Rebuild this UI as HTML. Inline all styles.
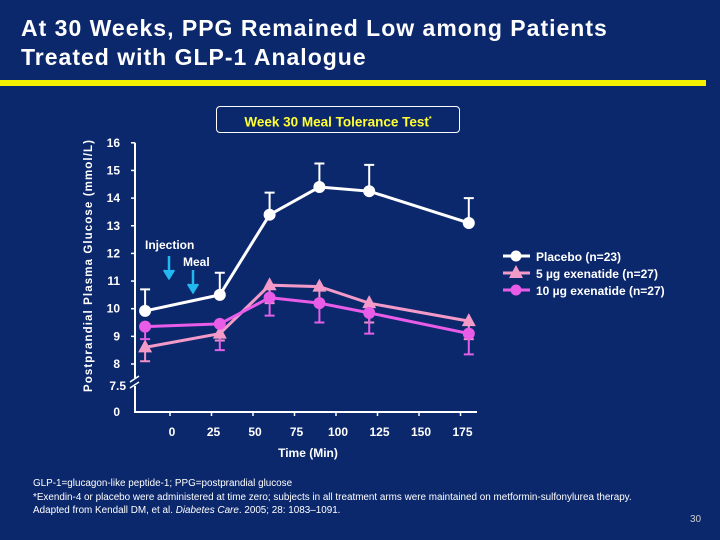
<!DOCTYPE html>
<html><head><meta charset="utf-8"><style>
body{margin:0;background:#0c286c;}
#s{position:relative;width:720px;height:540px;background:#0c286c;font-family:"Liberation Sans",sans-serif;color:#fff;overflow:hidden}
.t{position:absolute}
</style></head><body>
<div id="s">
<div class="t" style="left:21px;top:14px;font-size:23px;font-weight:bold;letter-spacing:1px;line-height:29px;">At 30 Weeks, PPG Remained Low among Patients<br>Treated with GLP-1 Analogue</div>
<div class="t" style="left:0;top:80px;width:706px;height:6px;background:#f5f000"></div>
<div class="t" style="left:216px;top:106px;width:242px;height:25px;border:1.5px solid #fff;border-radius:4px;color:#ffff33;font-size:13.5px;font-weight:bold;text-align:center;line-height:25px">Week 30 Meal Tolerance Test<sup style="font-size:7px">*</sup></div>
<svg class="t" style="left:0;top:0" width="720" height="540" id="c"></svg>
<div class="t" style="left:33px;top:477px;font-size:9.9px;line-height:13.5px">GLP-1=glucagon-like peptide-1; PPG=postprandial glucose<br>*Exendin-4 or placebo were administered at time zero; subjects in all treatment arms were maintained on metformin-sulfonylurea therapy.<br>Adapted from Kendall DM, et al. <i>Diabetes Care</i>. 2005; 28: 1083–1091.</div>
<div class="t" style="left:690px;top:514px;font-size:10px;color:#ccc">30</div>
</div>
<script>
const times=[-15,30,60,90,120,180];
const placebo=[9.92,10.5,13.4,14.4,14.25,13.1];
const placeboErrHi=[10.7,11.3,14.2,15.25,15.2,14.0];
const ex5=[8.6,9.1,10.85,10.8,10.2,9.55];
const ex5ErrLo=[8.1,8.85,10.2,10.2,9.5,8.9];
const ex10=[9.35,9.45,10.4,10.2,9.85,9.1];
const ex10ErrLo=[8.9,8.5,9.75,9.5,9.1,8.35];
const yTicks=[8,9,10,11,12,13,14,15,16];
const xTicks=[0,25,50,75,100,125,150,175];
const legendLabels=["Placebo (n=23)","5 µg exenatide (n=27)","10 µg exenatide (n=27)"];

const svg=document.getElementById('c');const NS="http://www.w3.org/2000/svg";
const X=t=>170+t*1.66;
const Y=v=>364-(v-8)*27.65;
function el(tag,a,name,parent){const e=document.createElementNS(NS,tag);for(const k in a)e.setAttribute(k,a[k]);


(parent||svg).appendChild(e);return e;}
function txt(x,y,s,name,a){const e=el('text',Object.assign({x:x,y:y,fill:'#fff','font-size':12,'font-family':'Liberation Sans, sans-serif','font-weight':'bold'},a||{}),name);e.textContent=s;return e;}
el('path',{d:`M135 ${Y(16)} V378 M135 386 V412 H477`,stroke:'#fff','stroke-width':2,fill:'none'},'axes');
el('path',{d:'M130 382 l9 -6 M130 388 l9 -6',stroke:'#fff','stroke-width':1.5},'axis-break');
yTicks.forEach(v=>{el('line',{x1:131,x2:135,y1:Y(v),y2:Y(v),stroke:'#fff','stroke-width':1.5},'y-tick');txt(120,Y(v)+4,String(v),'y-tick-label',{'text-anchor':'end'});});
txt(126,390,'7.5','y-tick-label',{'text-anchor':'end'});
txt(120,416,'0','y-tick-label',{'text-anchor':'end'});
xTicks.forEach(t=>{el('line',{x1:X(t),x2:X(t),y1:412,y2:416,stroke:'#fff','stroke-width':1.5},'x-tick');txt(X(t)+2,436,String(t),'x-tick-label',{'text-anchor':'middle'});});
txt(308,457,'Time (Min)','x-axis-title',{'text-anchor':'middle'});
txt(0,0,'Postprandial Plasma Glucose (mmol/L)','y-axis-title',{transform:'translate(92,392) rotate(-90)','font-size':11.5,textLength:252});
txt(145,249,'Injection','injection-label');
txt(183,266,'Meal','meal-label');
el('path',{d:'M169 256 V274 M164 270 l5 8 l5 -8',stroke:'#22b8f0','stroke-width':2.5,fill:'#22b8f0'},'injection-arrow');
el('path',{d:'M193 270 V288 M188 284 l5 8 l5 -8',stroke:'#22b8f0','stroke-width':2.5,fill:'#22b8f0'},'meal-arrow');
function errs(vals,ends,color,name){vals.forEach((v,i)=>{const x=X(times[i]);el('path',{d:`M${x} ${Y(v)} V${Y(ends[i])} M${x-5} ${Y(ends[i])} H${x+5}`,stroke:color,'stroke-width':2},name);});}
function series(vals,color,marker,name){
 el('polyline',{points:vals.map((v,i)=>X(times[i])+','+Y(v)).join(' '),fill:'none',stroke:color,'stroke-width':3},name+'-line');
 vals.forEach((v,i)=>{const x=X(times[i]),y=Y(v);
  if(marker==='tri')el('polygon',{points:`${x},${y-8} ${x-7},${y+5} ${x+7},${y+5}`,fill:color},name+'-point');
  else el('circle',{cx:x,cy:y,r:6,fill:color},name+'-point');});
}
errs(placebo,placeboErrHi,'#fff','placebo-error');
errs(ex5,ex5ErrLo,'#f090c8','ex5-error');
errs(ex10,ex10ErrLo,'#e060e8','ex10-error');
series(placebo,'#fff','circle','placebo');
series(ex5,'#f49ac8','tri','ex5');
series(ex10,'#e85ce8','circle','ex10');
const lc=['#fff','#f49ac8','#e85ce8'],lm=['circle','tri','circle'];
legendLabels.forEach((s,i)=>{const y=256+i*17;
 el('line',{x1:503,x2:530,y1:y,y2:y,stroke:lc[i],'stroke-width':3},'legend-swatch');
 if(lm[i]==='tri')el('polygon',{points:`516,${y-8} 509,${y+5} 523,${y+5}`,fill:lc[i]},'legend-marker');
 else el('circle',{cx:516,cy:y,r:5.5,fill:lc[i]},'legend-marker');
 txt(536,y+5,s,'legend-entry');});
</script>
</body></html>
